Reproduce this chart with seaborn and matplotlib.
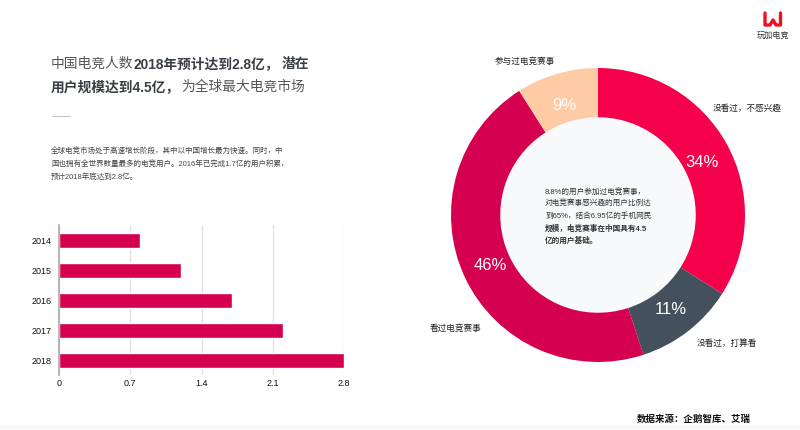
import matplotlib
matplotlib.use("Agg")
import matplotlib.pyplot as plt
import matplotlib.patches as mpatches
import pandas as pd
import seaborn as sns

years = ["2014", "2015", "2016", "2017", "2018"]
users = [0.8, 1.2, 1.7, 2.2, 2.8]
x_ticks = [0, 0.7, 1.4, 2.1, 2.8]
x_tick_labels = ["0", "0.7", "1.4", "2.1", "2.8"]

share_labels = ["没看过，不感兴趣", "没看过，打算看", "看过电竞赛事", "参与过电竞赛事"]
share_values = [34, 11, 46, 9]
share_colors = ["#F5004B", "#44505C", "#D5004F", "#FFCBA4"]

sns.set_theme(style="white")
plt.rcParams["font.family"] = ["Liberation Sans", "Noto Sans CJK SC", "DejaVu Sans"]

W, H = 800, 430
fig = plt.figure(figsize=(W / 100, H / 100), dpi=100, facecolor="white")


def box(l, t, r, b):
    return [l / W, 1 - b / H, (r - l) / W, (b - t) / H]


def put(x, y, s, **kw):
    kw.setdefault("va", "center")
    fig.text(x / W, 1 - y / H, s, **kw)


# Bars
ax = fig.add_axes(box(59, 225, 344, 375))
df = pd.DataFrame({"year": years, "users": users})
sns.barplot(data=df, y="year", x="users", color="#D5004F", saturation=1, width=0.5, ax=ax, zorder=3)
ax.set_xlim(0, 2.8)
ax.set_xticks(x_ticks)
ax.set_xticklabels(x_tick_labels, fontsize=6.5, color="#111111")
ax.set_xlabel("")
ax.set_ylabel("")
ax.tick_params(axis="y", labelsize=6.5, labelcolor="#111111", length=0, pad=5)
ax.tick_params(axis="x", length=0, pad=3)
ax.grid(axis="x", color="#E2E2E2", lw=1, zorder=0)
for s in ["top", "right", "bottom"]:
    ax.spines[s].set_visible(False)
ax.spines["left"].set_color("#AAAAAA")
ax.spines["left"].set_linewidth(1.2)
ax.spines["left"].set_zorder(5)

# Donut
ax2 = fig.add_axes(box(451, 68, 745, 362))
wedges, _, autotexts = ax2.pie(
    share_values, colors=share_colors, startangle=90, counterclock=False, radius=1,
    wedgeprops=dict(width=0.335, edgecolor="none"), autopct="%d%%", pctdistance=0.81,
    textprops=dict(color="white", fontsize=12),
)
for t in (autotexts[0], autotexts[3]):
    px, py = t.get_position()
    t.set_position((px, py - 0.03))
ax2.set_xlim(-1, 1)
ax2.set_ylim(-1, 1)
ax2.add_patch(mpatches.Circle((0, 0), 0.665, color="#F7F9FB", zorder=0))

label_pos = [(747, 108), (727, 343), (456, 328), (525, 61)]
for (x, y), s in zip(label_pos, share_labels):
    put(x, y, s, fontsize=6.2, color="#222222", ha="center", fontweight="medium")

# Centre note
note = ["8.8%的用户参加过电竞赛事，", "对电竞赛事感兴趣的用户比例达", "到65%，结合6.95亿的手机网民", "规模，电竞赛事在中国具有4.5", "亿的用户基础。"]
for i, s in enumerate(note):
    put(545, 192 + i * 12.2, s, fontsize=5.5, color="#333333", ha="left",
        fontweight="bold" if i > 2 else "medium")

# Headline
put(51, 64, "中国电竞人数", fontsize=9.9, color="#555555")
put(133, 64, "2018年预计达到2.8亿，", fontsize=9.9, color="#3A3F45", fontweight="bold")
put(282, 64, "潜在", fontsize=9.9, color="#3A3F45", fontweight="bold")
put(51, 87, "用户规模达到4.5亿，", fontsize=9.9, color="#3A3F45", fontweight="bold")
put(181, 87, "为全球最大电竞市场", fontsize=9.9, color="#555555")
fig.add_artist(plt.Line2D([52 / W, 70 / W], [1 - 116 / H] * 2, color="#C8C8C8", lw=0.8))

body = ["全球电竞市场处于高速增长阶段，其中以中国增长最为快速。同时，中",
        "国也拥有全世界数量最多的电竞用户。2016年已完成1.7亿的用户积累，",
        "预计2018年底达到2.8亿。"]
for i, s in enumerate(body):
    put(51, 151 + i * 13, s, fontsize=5.45, color="#444444", fontweight="medium")

# Source and logo
put(637, 419.5, "数据来源：企鹅智库、艾瑞", fontsize=6.8, color="#111111", fontweight="bold")
logo_x = [765, 765, 770, 773, 776, 780.5, 780.5]
logo_y = [13, 25, 25, 20, 25, 25, 13]
fig.add_artist(plt.Line2D([v / W for v in logo_x], [1 - v / H for v in logo_y],
                          color="#F01020", lw=2.4, solid_capstyle="round", solid_joinstyle="round"))
put(773, 36, "玩加电竞", fontsize=5.9, color="#333333", ha="center")
fig.add_artist(mpatches.Rectangle((0, 0), 1, 5 / H, transform=fig.transFigure, color="#F9F9F9", zorder=-1))

fig.savefig("out.png", dpi=100)
